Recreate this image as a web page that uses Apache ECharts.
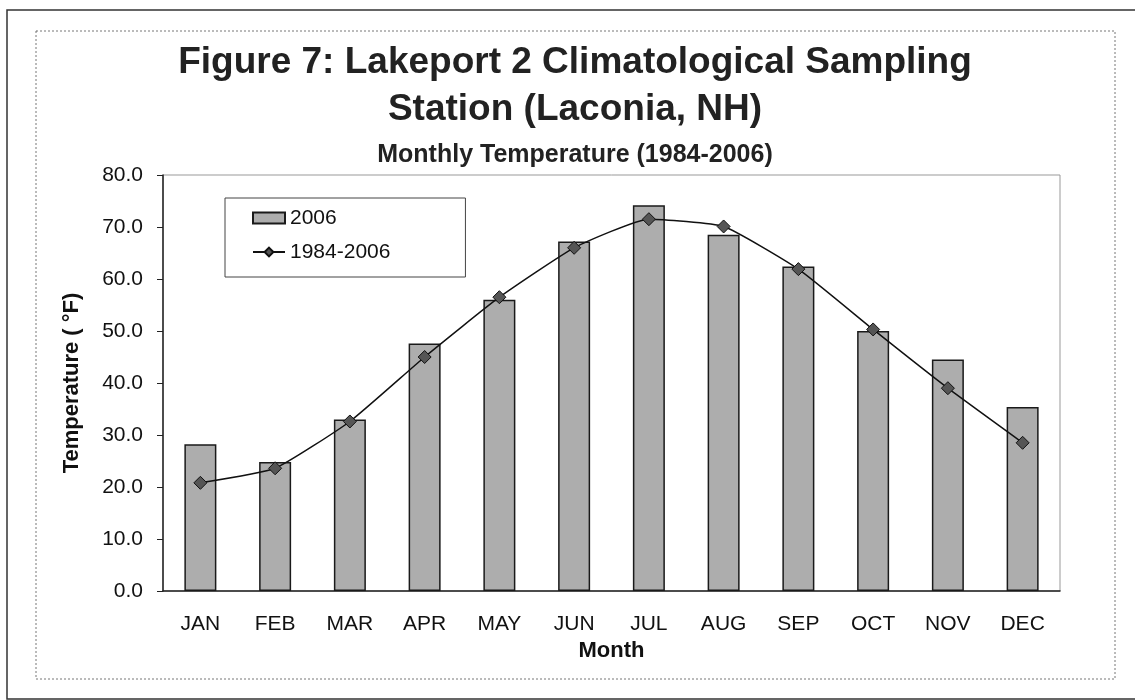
<!DOCTYPE html>
<html>
<head>
<meta charset="utf-8">
<title>Lakeport 2 Monthly Temperature</title>
<script src="https://cdn.jsdelivr.net/npm/echarts@6/dist/echarts.min.js"></script>
<style>
  html, body { margin: 0; padding: 0; background: #fff; }
  #chart { width: 1135px; height: 700px; }
</style>
</head>
<body>
<div id="chart"></div>
<script>
const months = ['JAN', 'FEB', 'MAR', 'APR', 'MAY', 'JUN', 'JUL', 'AUG', 'SEP', 'OCT', 'NOV', 'DEC']
const temp2006 = [28.2, 24.8, 33.0, 47.6, 56.0, 67.2, 74.2, 68.5, 62.4, 50.0, 44.5, 35.4]
const tempAvg = [20.8, 23.6, 32.6, 45.0, 56.5, 66.0, 71.5, 70.1, 61.9, 50.3, 39.0, 28.5]

const font = 'Liberation Sans, Arial, sans-serif'

const chart = echarts.init(document.getElementById('chart'))

chart.setOption({
  animation: false,
  backgroundColor: '#fff',
  title: [
    {
      text: 'Figure 7: Lakeport 2 Climatological Sampling',
      left: 575, top: 44, textAlign: 'center', padding: 0,
      textStyle: { fontFamily: font, fontSize: 37, fontWeight: 'bold', color: '#222' }
    },
    {
      text: 'Station (Laconia, NH)',
      left: 575, top: 91, textAlign: 'center', padding: 0,
      textStyle: { fontFamily: font, fontSize: 37, fontWeight: 'bold', color: '#222' }
    },
    {
      text: 'Monthly Temperature (1984-2006)',
      left: 575, top: 143, textAlign: 'center', padding: 0,
      textStyle: { fontFamily: font, fontSize: 25, fontWeight: 'bold', color: '#222' }
    }
  ],
  legend: {
    orient: 'vertical',
    left: 225,
    top: 198,
    padding: [9, 75, 14, 27],
    itemGap: 12,
    itemWidth: 32,
    itemHeight: 11,
    backgroundColor: '#fff',
    borderColor: '#444',
    borderWidth: 1,
    borderRadius: 0,
    textStyle: { fontFamily: font, fontSize: 21, color: '#111', lineHeight: 22 },
    data: [{ name: '2006', icon: 'rect' }, { name: '1984-2006' }]
  },
  grid: {
    left: 163,
    right: 75,
    top: 175,
    bottom: 109,
    show: true,
    borderColor: '#999',
    borderWidth: 1
  },
  xAxis: {
    type: 'category',
    data: months,
    name: 'Month',
    nameLocation: 'middle',
    nameGap: 48,
    nameTextStyle: { fontFamily: font, fontSize: 22, fontWeight: 'bold', color: '#111' },
    axisLine: { lineStyle: { color: '#222', width: 1.5 } },
    axisTick: { length: 8, lineStyle: { color: '#222' } },
    axisLabel: { fontFamily: font, fontSize: 21, color: '#111', margin: 23 }
  },
  yAxis: {
    type: 'value',
    min: 0,
    max: 80,
    interval: 10,
    name: 'Temperature ( °F)',
    nameLocation: 'middle',
    nameGap: 80,
    nameTextStyle: { fontFamily: font, fontSize: 22, fontWeight: 'bold', color: '#111' },
    axisLine: { show: true, lineStyle: { color: '#222', width: 1.5 } },
    axisTick: { show: true, length: 6, lineStyle: { color: '#222' } },
    splitLine: { show: false },
    axisLabel: {
      fontFamily: font, fontSize: 21, color: '#111', margin: 20,
      formatter: v => v.toFixed(1)
    }
  },
  graphic: [
    {
      type: 'rect', silent: true, z: -10,
      shape: { x: 7, y: 10, width: 1140, height: 689 },
      style: { fill: null, stroke: '#333', lineWidth: 1.5 }
    },
    {
      type: 'rect', silent: true, z: -10,
      shape: { x: 36, y: 31, width: 1079, height: 648 },
      style: { fill: null, stroke: '#777', lineWidth: 1, lineDash: [2, 2] }
    }
  ],
  series: [
    {
      name: '2006',
      type: 'bar',
      data: temp2006,
      barWidth: 32,
      itemStyle: { color: '#adadad', borderColor: '#1a1a1a', borderWidth: 1.5 }
    },
    {
      name: '1984-2006',
      type: 'line',
      data: tempAvg,
      smooth: 0.15,
      symbol: 'diamond',
      symbolSize: 13,
      lineStyle: { color: '#111', width: 1.5 },
      itemStyle: { color: '#555', borderColor: '#111', borderWidth: 1 }
    }
  ]
})
</script>
</body>
</html>
